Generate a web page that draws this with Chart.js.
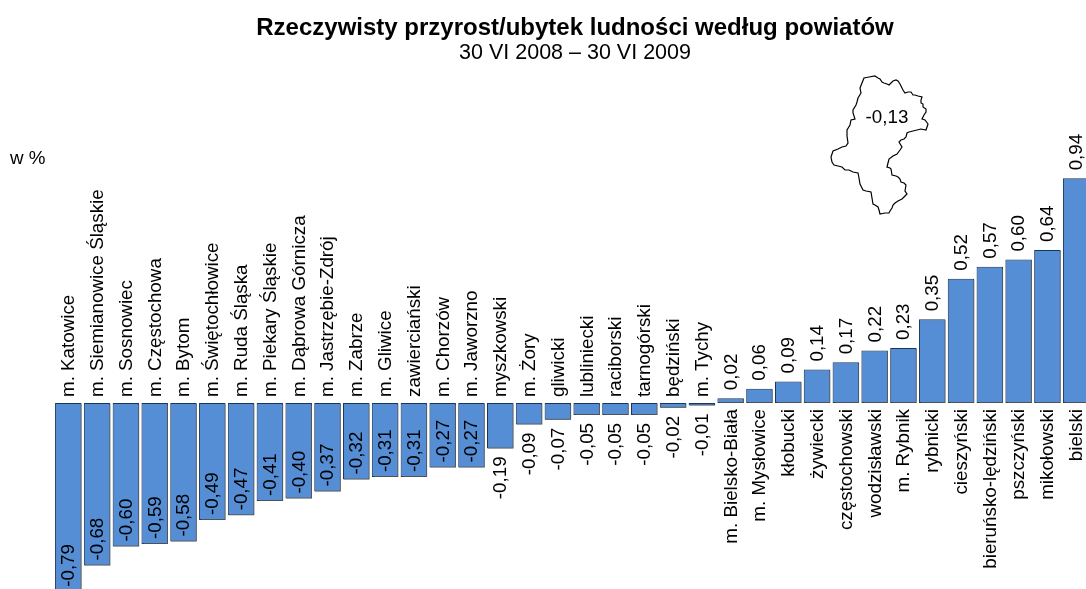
<!DOCTYPE html>
<html>
<head>
<meta charset="utf-8">
<style>
  html, body { margin: 0; padding: 0; background: #fff; }
  #clip { width: 1086px; height: 589px; overflow: hidden; }
  canvas { display: block; }
</style>
<script src="https://cdn.jsdelivr.net/npm/chart.js@4/dist/chart.umd.min.js"></script>
</head>
<body>
<div id="clip"><canvas id="chart" width="1150" height="650" style="width:1150px;height:650px"></canvas></div>
<script>
const categories = [
  'm. Katowice', 'm. Siemianowice Śląskie', 'm. Sosnowiec', 'm. Częstochowa', 'm. Bytom',
  'm. Świętochłowice', 'm. Ruda Śląska', 'm. Piekary Śląskie', 'm. Dąbrowa Górnicza',
  'm. Jastrzębie-Zdrój', 'm. Zabrze', 'm. Gliwice', 'zawierciański', 'm. Chorzów', 'm. Jaworzno',
  'myszkowski', 'm. Żory', 'gliwicki', 'lubliniecki', 'raciborski', 'tarnogórski', 'będziński',
  'm. Tychy', 'm. Bielsko-Biała', 'm. Mysłowice', 'kłobucki', 'żywiecki', 'częstochowski',
  'wodzisławski', 'm. Rybnik', 'rybnicki', 'cieszyński', 'bieruńsko-lędziński', 'pszczyński',
  'mikołowski', 'bielski'
];
const values = [
  -0.79, -0.68, -0.60, -0.59, -0.58, -0.49, -0.47, -0.41, -0.40, -0.37, -0.32, -0.31, -0.31,
  -0.27, -0.27, -0.19, -0.09, -0.07, -0.05, -0.05, -0.05, -0.02, -0.01, 0.02, 0.06, 0.09, 0.14,
  0.17, 0.22, 0.23, 0.35, 0.52, 0.57, 0.60, 0.64, 0.94
];
const titleText = 'Rzeczywisty przyrost/ubytek ludności według powiatów';
const subtitleText = '30 VI 2008 – 30 VI 2009';
const unitText = 'w %';
const regionValue = '-0,13';

// voivodeship outline (page pixels)
const outline = [
  [875,76],[878,78],[880,79],[882,82],[884,83],[887,84],[889,85],[891,83],[893,81],[896,80],[898,81],
  [900,84],[901,86],[903,90],[905,93],[908,92],[911,92],[913,95],[915,95],[918,96],[922,97],[921,100],
  [921,103],[923,104],[923,107],[926,109],[926,112],[924,115],[922,119],[925,120],[928,124],[926,130],
  [921,129],[917,130],[913,131],[909,132],[907,133],[906,137],[904,139],[901,140],[899,142],[902,147],
  [900,150],[897,154],[893,156],[889,159],[888,163],[887,167],[890,168],[891,169],[892,175],[896,176],
  [898,177],[900,179],[901,182],[904,183],[906,185],[905,191],[907,194],[905,196],[902,199],[898,201],
  [895,203],[893,205],[892,208],[890,211],[889,213],[885,213],[880,214],[879,210],[878,207],[875,205],
  [873,204],[872,198],[871,192],[866,191],[863,190],[861,186],[860,184],[859,178],[858,173],[853,172],
  [849,170],[845,170],[842,167],[838,166],[834,165],[832,162],[831,157],[832,154],[833,151],[838,149],
  [842,147],[846,146],[848,143],[847,136],[847,130],[850,125],[851,120],[855,119],[853,113],[853,110],
  [856,105],[857,102],[858,98],[861,93],[860,88],[862,83],[864,78],[869,77],[875,76]
];

const labelFont = '18.8px "Liberation Sans", Arial, sans-serif';

function vertText(ctx, text, x, y, align) {
  ctx.save();
  ctx.translate(x, y);
  ctx.rotate(-Math.PI / 2);
  ctx.textAlign = align;
  ctx.textBaseline = 'middle';
  ctx.fillText(text, 0, 0);
  ctx.restore();
}

const barShadow = {
  id: 'barShadow',
  beforeDatasetsDraw(chart) {
    const ctx = chart.ctx;
    ctx.save();
    ctx.shadowColor = 'rgba(90,90,90,0.8)';
    ctx.shadowOffsetX = 1;
    ctx.shadowOffsetY = 1;
    ctx.shadowBlur = 0;
  },
  afterDatasetsDraw(chart) {
    chart.ctx.restore();
  }
};

const barLabels = {
  id: 'barLabels',
  afterDraw(chart) {
    const ctx = chart.ctx;
    const zero = chart.scales.y.getPixelForValue(0);
    const bars = chart.getDatasetMeta(0).data;
    ctx.save();
    ctx.fillStyle = '#000';
    ctx.font = labelFont;
    bars.forEach((bar, i) => {
      const text = values[i].toFixed(2).replace('.', ',');
      const x = bar.x + 0.7;
      if (values[i] < 0) {
        vertText(ctx, categories[i], x, zero - 6, 'left');
        if (bar.y - zero > 50) vertText(ctx, text, x, bar.y - 5, 'left');
        else vertText(ctx, text, x, bar.y + 8, 'right');
      } else {
        vertText(ctx, categories[i], x, zero + 6, 'right');
        vertText(ctx, text, x, bar.y - 8, 'left');
      }
    });

    ctx.textAlign = 'left';
    ctx.textBaseline = 'middle';
    ctx.fillText(unitText, 10, 159);

    ctx.beginPath();
    outline.forEach((p, i) => i ? ctx.lineTo(p[0], p[1]) : ctx.moveTo(p[0], p[1]));
    ctx.closePath();
    ctx.lineWidth = 1.2;
    ctx.strokeStyle = '#000';
    ctx.stroke();

    ctx.textAlign = 'center';
    ctx.fillText(regionValue, 887, 118);
    ctx.restore();
  }
};

new Chart(document.getElementById('chart').getContext('2d'), {
  type: 'bar',
  data: {
    labels: categories,
    datasets: [{
      data: values,
      backgroundColor: '#558ED5',
      borderColor: '#17365D',
      borderWidth: 1,
      borderSkipped: false,
      barPercentage: 0.92,
      categoryPercentage: 1
    }]
  },
  options: {
    responsive: false,
    animation: false,
    layout: { padding: { left: 53.9, right: 53.9, top: 0, bottom: 8 } },
    plugins: {
      legend: { display: false },
      tooltip: { enabled: false },
      title: {
        display: true,
        text: titleText,
        color: '#000',
        font: { family: '"Liberation Sans", Arial, sans-serif', size: 24, weight: 'bold', lineHeight: 1 },
        padding: { top: 16, bottom: 0 }
      },
      subtitle: {
        display: true,
        text: subtitleText,
        color: '#000',
        font: { family: '"Liberation Sans", Arial, sans-serif', size: 21.5, weight: 'normal', lineHeight: 1 },
        padding: { top: 2, bottom: 4.9 }
      }
    },
    scales: {
      x: { display: false },
      // invisible axis on the right so the title stays centred at 575
      y: {
        position: 'right',
        min: -1,
        max: 1.4,
        ticks: { display: false },
        grid: { display: false },
        border: { display: false },
        afterFit(scale) { scale.width = 5.5; }
      }
    }
  },
  plugins: [barShadow, barLabels]
});
</script>
</body>
</html>
